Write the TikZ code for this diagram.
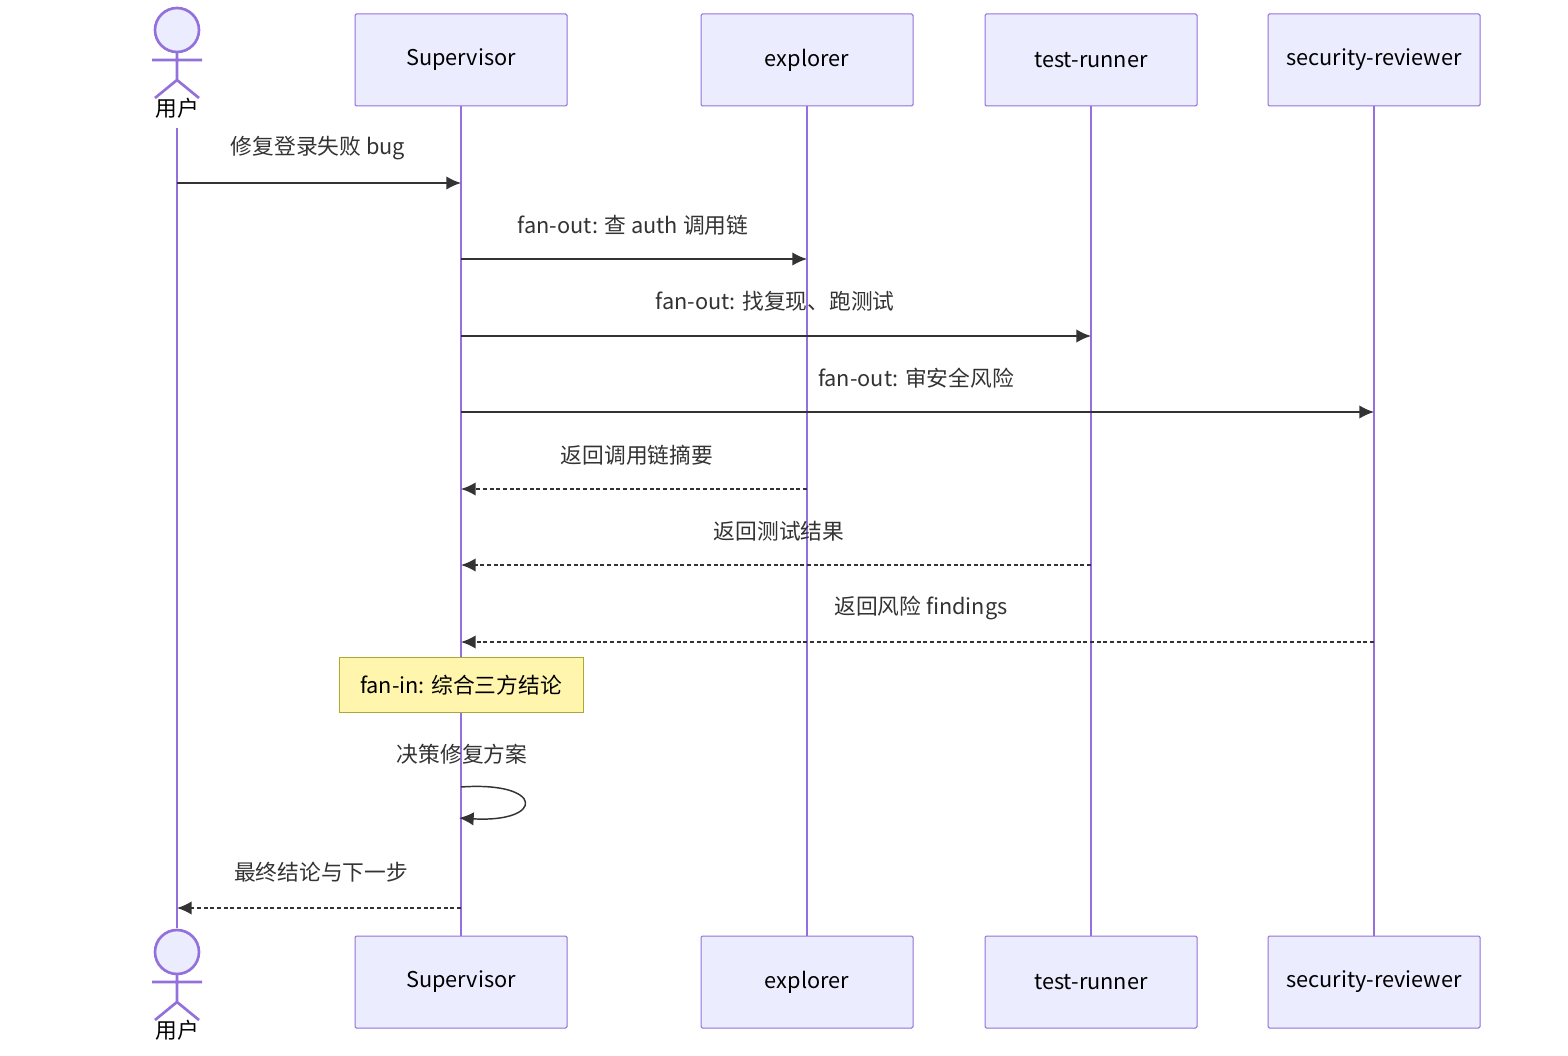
\documentclass[tikz,border=0pt]{standalone}
\usepackage{fontspec}
\setmainfont{Noto Sans CJK SC}
\usetikzlibrary{arrows.meta}
\definecolor{boxfill}{RGB}{236,236,255}
\definecolor{boxline}{RGB}{147,112,219}
\definecolor{ink}{RGB}{51,51,51}
\definecolor{notefill}{RGB}{255,245,173}
\definecolor{noteline}{RGB}{170,170,51}
\tikzset{every picture/.style={line width=0.75pt}}
\tikzset{
  actorbox/.style={draw=boxline,fill=boxfill,minimum width=159pt,minimum height=69pt,inner sep=0pt,font=\fontsize{16.3}{19}\selectfont,text=black,rounded corners=1pt},
  life/.style={draw=boxline,line width=1.5pt},
  msg/.style={draw=ink,line width=1.1pt,-{Latex[length=11pt,width=10pt]}},
  reply/.style={msg,dash pattern=on 3pt off 2pt},
  lbl/.style={font=\fontsize{16.3}{19}\selectfont,text=ink,inner sep=0pt},
  person/.style={draw=boxline,fill=boxfill,line width=2pt}
}
\begin{document}
\begin{tikzpicture}[x=0.75pt,y=0.75pt,yscale=-1,xscale=1]
\useasboundingbox (0,0) rectangle (1568,1056);

% lifelines
\coordinate (uT) at (177,128); \coordinate (uB) at (177,928);
\draw[life] (uT) -- (uB);
\foreach \n/\x in {sup/461,exp/807,tst/1091,sec/1374}{
  \coordinate (\n T) at (\x,106); \coordinate (\n B) at (\x,936);
  \draw[life] (\n T) -- (\n B);
}

% participants, top and bottom
\foreach \p/\y in {t/60,b/982}{
  \node[actorbox] (sup\p) at (461,\y) {Supervisor};
  \node[actorbox] (exp\p) at (807,\y) {explorer};
  \node[actorbox] (tst\p) at (1091,\y) {test-runner};
  \node[actorbox] (sec\p) at (1374,\y) {security-reviewer};
}

% user actor, top and bottom
\foreach \y/\l in {30/108,952/1030}{
  \draw[person] (177,\y) circle (22);
  \draw[boxline,line width=2pt] (177,\y+22) -- (177,\y+50) (152,\y+30) -- (202,\y+30)
       (155,\y+68) -- (177,\y+50) -- (199,\y+68);
  \node[lbl,text=black] at (177,\l) {用户};
}

% messages
\draw[msg] (177,183) -- (461,183);
\node[lbl] (m1) at (318,148) {修复登录失败 bug};
\draw[msg] (461,259) -- (807,259);
\node[lbl] (m2) at (633,225) {fan-out: 查 auth 调用链};
\draw[msg] (461,336) -- (1091,336);
\node[lbl] (m3) at (775,301) {fan-out: 找复现、跑测试};
\draw[msg] (461,412) -- (1374,412);
\node[lbl] (m4) at (916,378) {fan-out: 审安全风险};
\draw[reply] (807,489) -- (461,489);
\node[lbl] (r1) at (637,455) {返回调用链摘要};
\draw[reply] (1091,565) -- (461,565);
\node[lbl] (r2) at (779,531) {返回测试结果};
\draw[reply] (1374,642) -- (461,642);
\node[lbl] (r3) at (921,608) {返回风险 findings};

% note
\node[draw=noteline,fill=notefill,minimum width=183pt,minimum height=41pt,lbl,text=black] (note) at (461,685) {fan-in: 综合三方结论};

% self message
\node[lbl] (self) at (462,754) {决策修复方案};
\draw[msg] (461,787) .. controls (545,781) and (545,823) .. (459,818);

% final reply
\draw[reply] (461,908) -- (177,908);
\node[lbl] (fin) at (321,872) {最终结论与下一步};
\end{tikzpicture}
\end{document}
